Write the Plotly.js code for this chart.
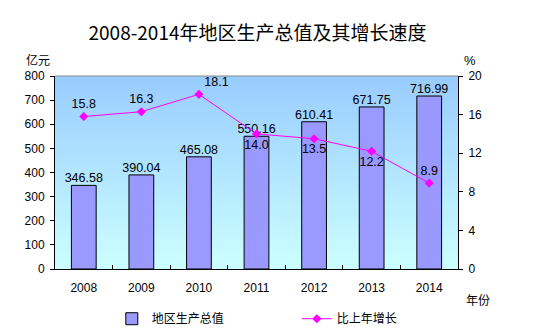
<!DOCTYPE html>
<html><head><meta charset="utf-8">
<script src="https://cdn.plot.ly/plotly-3.0.1.min.js"></script>
<style>body{margin:0;background:#fff}#c{width:541px;height:332px}</style>
</head><body><div id="c"></div>
<script>
const years = ['2008','2009','2010','2011','2012','2013','2014'];
const gdp = [346.58, 390.04, 465.08, 550.16, 610.41, 671.75, 716.99];
const growth = [15.8, 16.3, 18.1, 14.0, 13.5, 12.2, 8.9];
const gdpLabels = ['346.58','390.04','465.08','550.16','610.41','671.75','716.99'];
const growthLabels = ['15.8','16.3','18.1','14.0','13.5','12.2','8.9'];
const growthPos = ['top center','top center','top right','bottom center','bottom center','bottom center','top center'];

const num = 'Liberation Sans, Arial, sans-serif';
const cjk = 'Noto Sans CJK SC, sans-serif';

const grad = 'data:image/svg+xml;utf8,' + encodeURIComponent(
 '<svg xmlns="http://www.w3.org/2000/svg" width="100" height="100" preserveAspectRatio="none"><defs><linearGradient id="g" x1="0" y1="0" x2="0" y2="1"><stop offset="0" stop-color="#99ccff"/><stop offset="1" stop-color="#ccffff"/></linearGradient></defs><rect width="100" height="100" fill="url(#g)"/></svg>');

const data = [
 {type:'bar', x:years, y:gdp, name:'地区生产总值', width:0.43,
  marker:{color:'#9999ff', line:{color:'#000', width:1}}, hoverinfo:'none'},
 {type:'scatter', mode:'text', x:years, y:gdp, text:gdpLabels, textposition:'top center',
  showlegend:false, cliponaxis:false, textfont:{family:num, size:12.5, color:'#000'}, hoverinfo:'none'},
 {type:'scatter', mode:'lines+markers+text', x:years, y:growth, yaxis:'y2', name:'比上年增长',
  line:{color:'#ff00ff', width:1}, marker:{symbol:'diamond', size:7, color:'#ff00ff'},
  text:growthLabels, textposition:growthPos, cliponaxis:false,
  textfont:{family:num, size:12.5, color:'#000'}, hoverinfo:'none'}
];

const layout = {
 width:541, height:332, margin:{l:55, r:83, t:76, b:63},
 paper_bgcolor:'#fff', plot_bgcolor:'rgba(0,0,0,0)',
 title:{text:'2008-2014年地区生产总值及其增长速度', xref:'container', x:0.476, xanchor:'center', y:0.9, yanchor:'middle',
  font:{family:cjk, size:19, color:'#000'}},
 showlegend:true,
 legend:{orientation:'h', x:0.6, xanchor:'center', yref:'container', y:0.04, yanchor:'middle',
  font:{family:cjk, size:12, color:'#000'}, itemwidth:30, traceorder:'normal',
  entrywidth:140, bgcolor:'rgba(0,0,0,0)'},
 xaxis:{type:'category', showline:true, linecolor:'#000', linewidth:1,
  ticks:'inside', tickson:'boundaries', ticklen:4, tickcolor:'#000', ticklabelstandoff:8,
  tickfont:{family:num, size:12, color:'#000'}, showgrid:false, zeroline:false, automargin:false},
 yaxis:{range:[0,800], dtick:100, showline:true, linecolor:'#000', ticks:'outside', ticklen:4,
  tickcolor:'#000', tickfont:{family:num, size:12, color:'#000'}, ticklabelstandoff:3,
  showgrid:false, zeroline:false, automargin:false},
 yaxis2:{range:[0,20], dtick:4, overlaying:'y', side:'right', showline:true, linecolor:'#000',
  ticks:'outside', ticklen:4, tickcolor:'#000', tickfont:{family:num, size:12, color:'#000'},
  ticklabelstandoff:3, showgrid:false, zeroline:false, automargin:false},
 images:[{source:grad, xref:'paper', yref:'paper', x:0, y:1, sizex:1, sizey:1,
  sizing:'stretch', layer:'below', xanchor:'left', yanchor:'top'}],
 shapes:[{type:'line', xref:'paper', yref:'paper', x0:0, x1:1, y0:1, y1:1, line:{color:'#888', width:1}}],
 annotations:[
  {text:'亿元', xref:'paper', yref:'paper', x:-0.042, y:1.03, xanchor:'center', yanchor:'bottom', showarrow:false,
   font:{family:cjk, size:12, color:'#000'}},
  {text:'%', xref:'paper', yref:'paper', x:1.03, y:1.03, xanchor:'center', yanchor:'bottom', showarrow:false,
   font:{family:num, size:13, color:'#000'}},
  {text:'年份', xref:'paper', yref:'paper', x:1.05, y:-0.16, xanchor:'center', yanchor:'middle', showarrow:false,
   font:{family:cjk, size:12, color:'#000'}}
 ]
};
Plotly.newPlot('c', data, layout, {displayModeBar:false, staticPlot:true});
</script></body></html>
